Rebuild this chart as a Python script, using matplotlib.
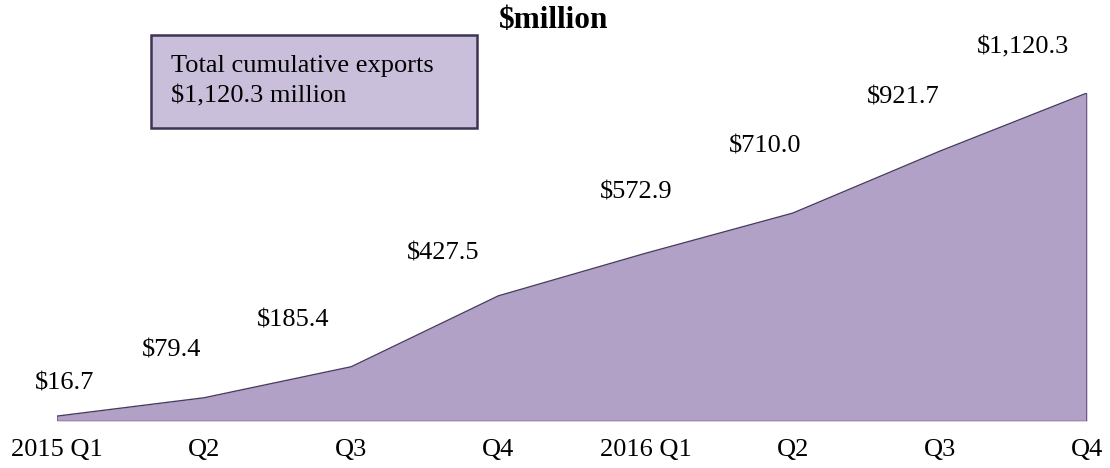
import matplotlib
matplotlib.use("Agg")
import matplotlib.pyplot as plt
import numpy as np

quarters = ["2015 Q1", "Q2", "Q3", "Q4", "2016 Q1", "Q2", "Q3", "Q4"]
exports = [16.7, 79.4, 185.4, 427.5, 572.9, 710.0, 921.7, 1120.3]
value_labels = ["$16.7", "$79.4", "$185.4", "$427.5", "$572.9", "$710.0", "$921.7", "$1,120.3"]
total_text = "Total cumulative exports\n$1,120.3 million"

# label offsets (px) from each point to the label baseline, as in the original layout
label_dx = [8, -33, -58, -55, -9, -28, -37, -64]
label_dy = [27, 41, 40, 36, 55, 61, 48, 40]

FILL = "#B1A1C7"
EDGE = "#4A3D62"
FS = 19

plt.rcParams["font.family"] = ["Liberation Serif", "DejaVu Serif"]

fig = plt.figure(figsize=(11.1, 4.68), dpi=100)
ax = fig.add_axes([57 / 1110, 47 / 468, 1030 / 1110, 328 / 468])

x = np.arange(len(exports))
ax.fill_between(x, 0, exports, color=FILL, linewidth=0)
ax.plot(np.r_[x[0], x, x[-1]], np.r_[0, exports, 0], color=EDGE, linewidth=1.0)
ax.plot([x[0], x[-1]], [0, 0], color=EDGE, linewidth=1.0)

for xi, v, lbl, dx, dy in zip(x, exports, value_labels, label_dx, label_dy):
    ax.annotate(lbl, (xi, v), xytext=(dx * 0.72, dy * 0.72), textcoords="offset points",
                ha="center", va="baseline", fontsize=FS, annotation_clip=False)

ax.set_xlim(0, len(exports) - 1)
ax.set_ylim(0, max(exports))
ax.set_xticks(x)
ax.set_xticklabels(quarters, fontsize=FS)
ax.tick_params(axis="x", length=0, pad=13)
ax.set_yticks([])
for s in ax.spines.values():
    s.set_visible(False)
ax.patch.set_alpha(0)

fig.text(554 / 1110, 1 - 28 / 468, "$million", ha="center", va="baseline",
         fontsize=22.5, fontweight="bold")

box = plt.Rectangle((151 / 1110, 1 - 128 / 468), 326 / 1110, 93 / 468,
                    transform=fig.transFigure, facecolor="#C9BFDB",
                    edgecolor="#3E3354", linewidth=1.8)
fig.patches.append(box)
fig.text(171 / 1110, 1 - 81 / 468, total_text, ha="left", va="center",
         fontsize=FS, linespacing=1.5)

fig.savefig("out.png", dpi=100)
